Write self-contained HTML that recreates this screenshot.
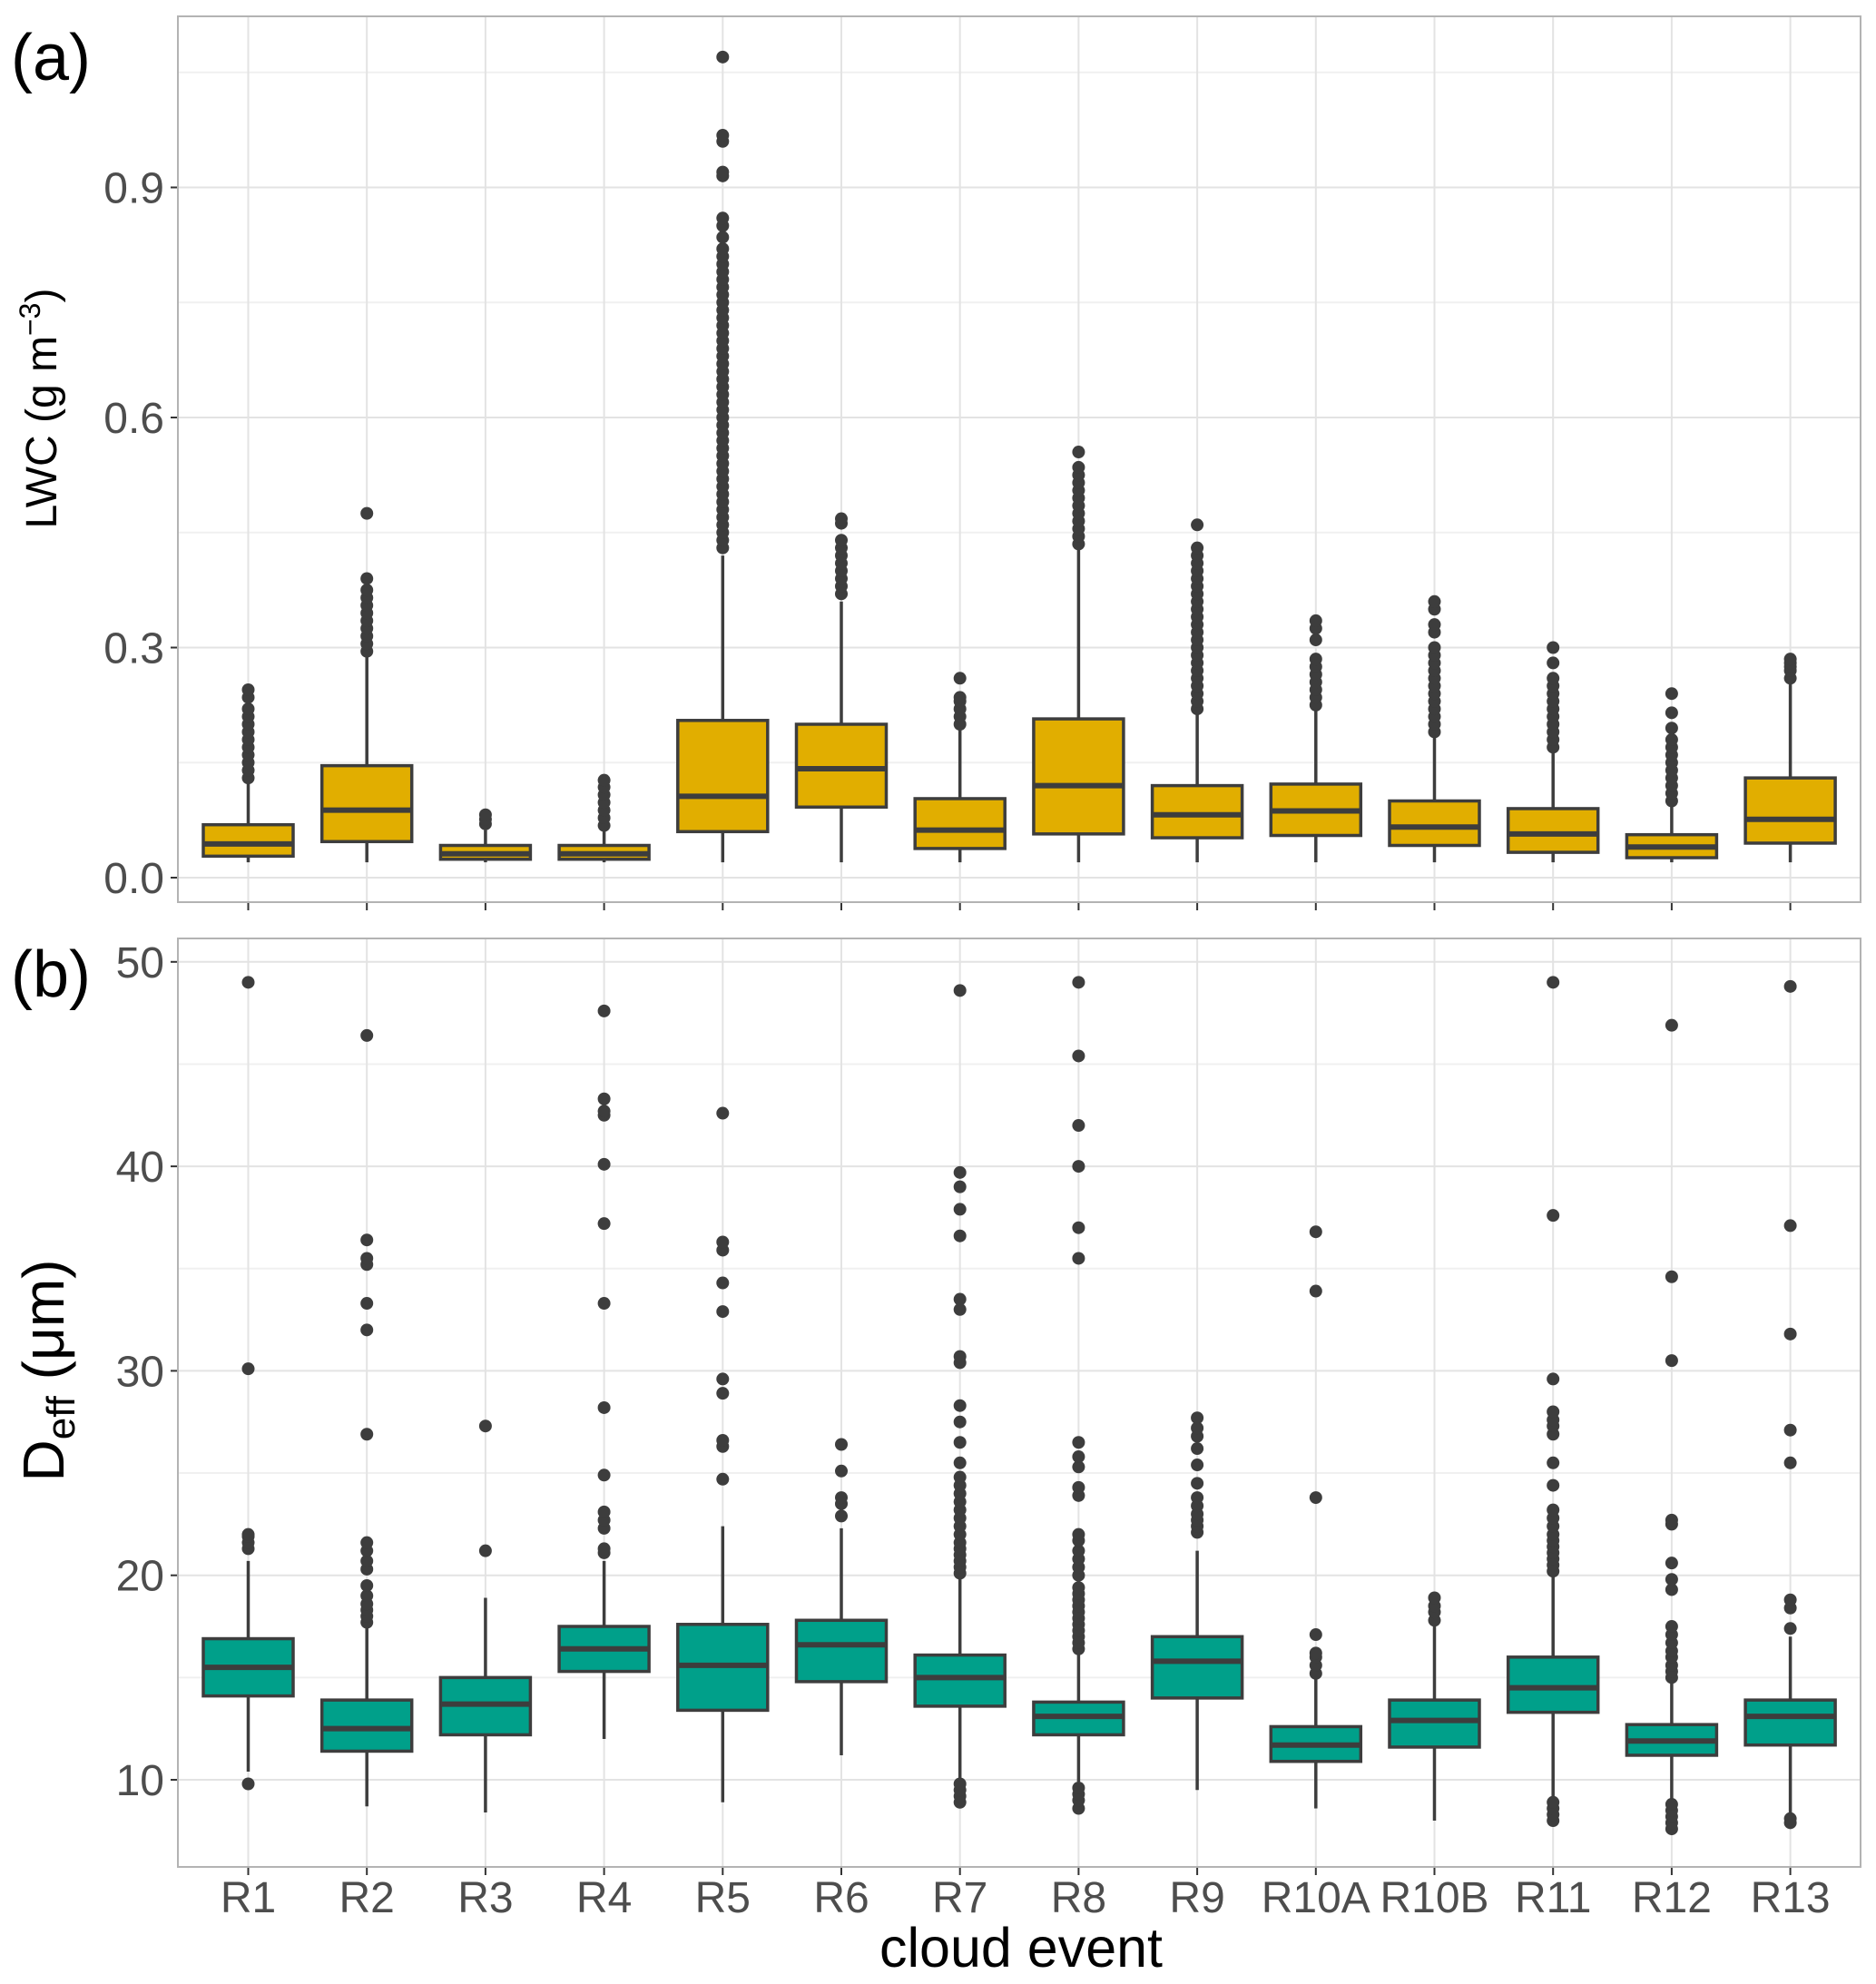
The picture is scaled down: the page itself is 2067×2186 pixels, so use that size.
<!DOCTYPE html>
<html><head><meta charset="utf-8">
<style>
html,body{margin:0;padding:0;background:#fff;}
svg{display:block;font-family:"Liberation Sans",sans-serif;}
</style></head>
<body>
<svg id="chart" width="2067" height="2186" xmlns="http://www.w3.org/2000/svg">
<rect width="2067" height="2186" fill="#fff"/>
<g id="pa"></g>
<g id="pb"></g>
<text x="12" y="88" font-size="72" fill="#000">(a)</text>
<text x="12" y="1098" font-size="72" fill="#000">(b)</text>
<text transform="translate(62,450) rotate(-90)" text-anchor="middle" font-size="48" fill="#000">LWC (g m<tspan dy="-18" font-size="32">−3</tspan><tspan dy="18">)</tspan></text>
<text transform="translate(70,1510) rotate(-90)" text-anchor="middle" font-size="64" fill="#000">D<tspan dy="12" font-size="44">eff</tspan><tspan dy="-12"> (μm)</tspan></text>
<text x="1125" y="2167" text-anchor="middle" font-size="61" fill="#000">cloud event</text>
</svg>
<script>
const categories=["R1","R2","R3","R4","R5","R6","R7","R8","R9","R10A","R10B","R11","R12","R13"];
const lwcQ1=[0.028,0.047,0.024,0.024,0.060,0.092,0.038,0.057,0.052,0.055,0.042,0.033,0.026,0.045];
const lwcMed=[0.044,0.088,0.031,0.031,0.106,0.142,0.062,0.120,0.082,0.087,0.066,0.057,0.040,0.076];
const lwcQ3=[0.069,0.146,0.042,0.042,0.205,0.200,0.103,0.207,0.120,0.122,0.100,0.090,0.056,0.130];
const lwcLo=[0.020,0.020,0.020,0.020,0.020,0.020,0.020,0.020,0.020,0.020,0.020,0.020,0.020,0.020];
const lwcHi=[0.125,0.29,0.062,0.062,0.42,0.36,0.198,0.43,0.215,0.22,0.188,0.168,0.098,0.258];
const lwcOut=[
[0.13,0.14,0.15,0.16,0.17,0.18,0.19,0.20,0.21,0.22,0.235,0.245],
[0.295,0.305,0.315,0.325,0.335,0.345,0.355,0.365,0.375,0.39,0.475],
[0.07,0.076,0.082],
[0.068,0.078,0.088,0.098,0.108,0.118,0.127],
[0.43,0.44,0.45,0.46,0.47,0.48,0.49,0.50,0.51,0.52,0.53,0.54,0.55,0.56,0.57,0.58,0.59,0.60,0.61,0.62,0.63,0.64,0.65,0.66,0.67,0.68,0.69,0.70,0.71,0.72,0.73,0.74,0.75,0.76,0.77,0.78,0.79,0.80,0.81,0.82,0.835,0.85,0.86,0.915,0.92,0.96,0.968,1.07],
[0.37,0.38,0.39,0.40,0.41,0.42,0.43,0.44,0.462,0.468],
[0.20,0.21,0.22,0.23,0.235,0.26],
[0.435,0.445,0.455,0.465,0.475,0.485,0.495,0.505,0.515,0.525,0.535,0.555],
[0.22,0.23,0.24,0.25,0.26,0.27,0.28,0.29,0.30,0.31,0.32,0.33,0.34,0.35,0.36,0.37,0.38,0.39,0.40,0.41,0.42,0.43,0.46],
[0.225,0.235,0.245,0.255,0.265,0.275,0.285,0.31,0.325,0.335],
[0.19,0.20,0.21,0.22,0.23,0.24,0.25,0.26,0.27,0.28,0.29,0.30,0.32,0.33,0.35,0.36],
[0.17,0.18,0.19,0.20,0.21,0.22,0.23,0.24,0.25,0.26,0.28,0.30],
[0.10,0.11,0.12,0.13,0.14,0.15,0.16,0.17,0.18,0.195,0.215,0.24],
[0.26,0.27,0.275,0.28,0.285]];
const lwcTicks=[0.0,0.3,0.6,0.9];
const lwcTickLabels=["0.0","0.3","0.6","0.9"];
const lwcMinor=[0.15,0.45,0.75,1.05];

const deffQ1=[14.1,11.4,12.2,15.3,13.4,14.8,13.6,12.2,14.0,10.9,11.6,13.3,11.2,11.7];
const deffMed=[15.5,12.5,13.7,16.4,15.6,16.6,15.0,13.1,15.8,11.7,12.9,14.5,11.9,13.1];
const deffQ3=[16.9,13.9,15.0,17.5,17.6,17.8,16.1,13.8,17.0,12.6,13.9,16.0,12.7,13.9];
const deffLo=[10.4,8.7,8.4,12.0,8.9,11.2,9.9,9.9,9.5,8.6,8.0,9.1,9.0,8.4];
const deffHi=[20.7,17.5,18.9,20.7,22.4,22.3,19.9,16.2,21.2,15.0,17.5,20.0,14.8,17.0];
const deffOut=[
[9.8,21.3,21.6,21.9,22.0,30.1,49.0],
[17.7,18.0,18.3,18.6,19.0,19.5,20.3,20.7,21.2,21.6,26.9,32.0,33.3,35.2,35.5,36.4,46.4],
[21.2,27.3],
[21.1,21.3,22.3,22.7,23.1,24.9,28.2,33.3,37.2,40.1,42.5,42.7,43.3,47.6],
[24.7,26.3,26.6,28.9,29.6,32.9,34.3,35.9,36.3,42.6],
[22.9,23.5,23.8,25.1,26.4],
[8.9,9.2,9.5,9.8,20.1,20.4,20.7,21.0,21.3,21.6,22.0,22.4,22.8,23.2,23.6,24.0,24.4,24.8,25.5,26.5,27.5,28.3,30.4,30.7,33.0,33.5,36.6,37.9,39.0,39.7,48.6],
[8.6,9.0,9.3,9.6,16.4,16.7,17.0,17.3,17.6,17.9,18.2,18.5,18.8,19.1,19.4,20.0,20.4,20.8,21.2,21.7,22.0,23.9,24.3,25.3,25.8,26.5,35.5,37.0,40.0,42.0,45.4,49.0],
[22.1,22.4,22.7,23.0,23.4,23.8,24.5,25.4,26.2,26.8,27.2,27.7],
[15.2,15.6,16.0,16.2,17.1,23.8,33.9,36.8],
[17.8,18.2,18.5,18.9],
[8.0,8.3,8.6,8.9,20.2,20.5,20.8,21.1,21.4,21.7,22.0,22.4,22.8,23.2,24.4,25.5,26.9,27.3,27.6,28.0,29.6,37.6,49.0],
[7.6,7.9,8.2,8.5,8.8,15.0,15.3,15.6,16.0,16.3,16.7,17.1,17.5,19.3,19.8,20.6,22.5,22.7,30.5,34.6,46.9],
[7.9,8.1,17.4,18.4,18.8,25.5,27.1,31.8,37.1,48.8]];
const deffTicks=[10,20,30,40,50];
const deffTickLabels=["10","20","30","40","50"];
const deffMinor=[15,25,35,45];

const NS="http://www.w3.org/2000/svg";
const L=196,R=2050,X0=273.5,DX=130.7,BW=99;
function xOf(i){return X0+i*DX;}
function mk(p,t,a){const e=document.createElementNS(NS,t);for(const k in a)e.setAttribute(k,a[k]);p.appendChild(e);return e;}

function panel(g,top,bot,yOf,ticks,labels,minor,q1,med,q3,lo,hi,out,fill,showX,pfx){
  minor.forEach(v=>{const l=mk(g,'line',{x1:L,x2:R,y1:yOf(v),y2:yOf(v),stroke:'#f0f0f0','stroke-width':2});
    });
  ticks.forEach((v,k)=>{const l=mk(g,'line',{x1:L,x2:R,y1:yOf(v),y2:yOf(v),stroke:'#e3e3e3','stroke-width':2});
    
    const t=mk(g,'text',{x:181,y:yOf(v)+17,'text-anchor':'end','font-size':48,fill:'#4d4d4d'});t.textContent=labels[k];
    
    const tk=mk(g,'line',{x1:L-8,x2:L,y1:yOf(v),y2:yOf(v),stroke:'#333','stroke-width':2});
    });
  categories.forEach((c,i)=>{const x=xOf(i);
    const l=mk(g,'line',{x1:x,x2:x,y1:top,y2:bot,stroke:'#e3e3e3','stroke-width':2});
    
    const tk=mk(g,'line',{x1:x,x2:x,y1:bot,y2:bot+9,stroke:'#333','stroke-width':2});
    
    if(showX){const t=mk(g,'text',{x:x,y:bot+50,'text-anchor':'middle','font-size':48,fill:'#4d4d4d'});t.textContent=c;
      }
  });
  categories.forEach((c,i)=>{const x=xOf(i);
    const bg=mk(g,'g',{});
    
    const w1=mk(bg,'line',{x1:x,x2:x,y1:yOf(q3[i]),y2:yOf(hi[i]),stroke:'#3d3d3d','stroke-width':3.5});
    
    const w2=mk(bg,'line',{x1:x,x2:x,y1:yOf(q1[i]),y2:yOf(lo[i]),stroke:'#3d3d3d','stroke-width':3.5});
    
    const r=mk(bg,'rect',{x:x-BW/2,y:yOf(q3[i]),width:BW,height:yOf(q1[i])-yOf(q3[i]),fill:fill,stroke:'#3d3d3d','stroke-width':3.5});
    
    const m=mk(bg,'line',{x1:x-BW/2,x2:x+BW/2,y1:yOf(med[i]),y2:yOf(med[i]),stroke:'#3d3d3d','stroke-width':6});
    
    out[i].forEach(v=>{const d=mk(bg,'circle',{cx:x,cy:yOf(v),r:7,fill:'#3d3d3d'});
      });
  });
  const b=mk(g,'rect',{x:L,y:top,width:R-L,height:bot-top,fill:'none',stroke:'#b3b3b3','stroke-width':2});
  
}
const yA=v=>967-v/0.3*253.5;
const yB=v=>1961-(v-10)*22.53;
panel(document.getElementById('pa'),18,994,yA,lwcTicks,lwcTickLabels,lwcMinor,lwcQ1,lwcMed,lwcQ3,lwcLo,lwcHi,lwcOut,'#E1AE00',false,'lwc');
panel(document.getElementById('pb'),1034,2057,yB,deffTicks,deffTickLabels,deffMinor,deffQ1,deffMed,deffQ3,deffLo,deffHi,deffOut,'#00A08A',true,'deff');
</script>
</body></html>
